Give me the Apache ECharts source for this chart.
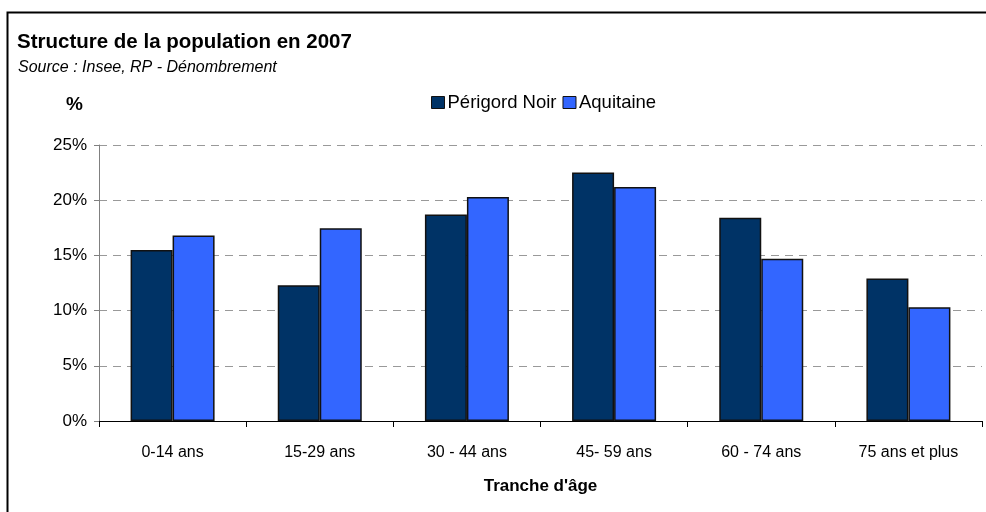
<!DOCTYPE html>
<html lang="fr">
<head>
  <meta charset="UTF-8">
  <title>Structure de la population en 2007</title>
  <style>
    html, body { margin: 0; padding: 0; background: #fff; }
  </style>
</head>
<body>
  <div id="main" style="width: 986px; height: 512px"></div>
  <script src="https://cdn.jsdelivr.net/npm/echarts@6/dist/echarts.min.js"></script>
  <script>
    // tranches d'âge
    const categories = ['0-14 ans', '15-29 ans', '30 - 44 ans', '45- 59 ans', '60 - 74 ans', '75 ans et plus'];
    // parts en %
    const perigordNoir = [15.5, 12.3, 18.7, 22.5, 18.4, 12.9];
    const aquitaine = [16.8, 17.45, 20.3, 21.2, 14.7, 10.3];
    const yTicks = [0, 5, 10, 15, 20, 25];

    const font = 'Liberation Sans, Arial, sans-serif';

    let myChart = echarts.init(document.getElementById('main'));
    let option = {
      animation: false,
      textStyle: { fontFamily: font },
      // cadre autour du graphique
      graphic: [
        {
          type: 'rect',
          left: 5, top: 10,
          shape: { width: 1000, height: 600 },
          style: { fill: 'none', stroke: '#000', lineWidth: 2 }
        },
        {
          type: 'text',
          left: 17, top: 32,
          style: { text: 'Structure de la population en 2007', font: 'bold 20.5px ' + font, fill: '#000' }
        },
        {
          type: 'text',
          left: 18, top: 60,
          style: { text: 'Source : Insee, RP - Dénombrement', font: 'italic 16px ' + font, fill: '#000' }
        },
        {
          type: 'text',
          left: 66, top: 95,
          style: { text: '%', font: 'bold 19px ' + font, fill: '#000' }
        }
      ],
      legend: {
        top: 88,
        left: 426,
        icon: 'rect',
        itemWidth: 13,
        itemHeight: 12,
        itemGap: 6,
        textStyle: { fontSize: 18.5, color: '#000', padding: [0, 0, 0, -2] },
        itemStyle: { borderColor: '#111', borderWidth: 1 },
        data: ['Périgord Noir', 'Aquitaine']
      },
      grid: { left: 99, right: 4, top: 145, bottom: 91 },
      xAxis: {
        type: 'category',
        data: categories,
        name: "Tranche d'âge",
        nameLocation: 'middle',
        nameGap: 57,
        nameTextStyle: { fontWeight: 'bold', fontSize: 17, color: '#000' },
        axisLine: { lineStyle: { color: '#000', width: 1 } },
        axisTick: { show: true, length: 6, lineStyle: { color: '#000' } },
        axisLabel: { fontSize: 16, color: '#000', margin: 24 }
      },
      yAxis: {
        type: 'value',
        min: yTicks[0],
        max: yTicks[yTicks.length - 1],
        interval: 5,
        axisLine: { show: true, lineStyle: { color: '#808080' } },
        axisTick: { show: true, length: 5, lineStyle: { color: '#808080' } },
        axisLabel: { fontSize: 17, color: '#000', margin: 12, formatter: '{value}%' },
        splitLine: { lineStyle: { color: '#999', type: [8, 6], width: 1 } }
      },
      series: [
        {
          name: 'Périgord Noir',
          type: 'bar',
          data: perigordNoir,
          barWidth: 42,
          barGap: '0%',
          itemStyle: { color: '#003366', borderColor: '#111', borderWidth: 1.5 }
        },
        {
          name: 'Aquitaine',
          type: 'bar',
          data: aquitaine,
          barWidth: 42,
          itemStyle: { color: '#3366FF', borderColor: '#111', borderWidth: 1.5 }
        }
      ]
    };
    myChart.setOption(option);
  </script>
</body>
</html>
